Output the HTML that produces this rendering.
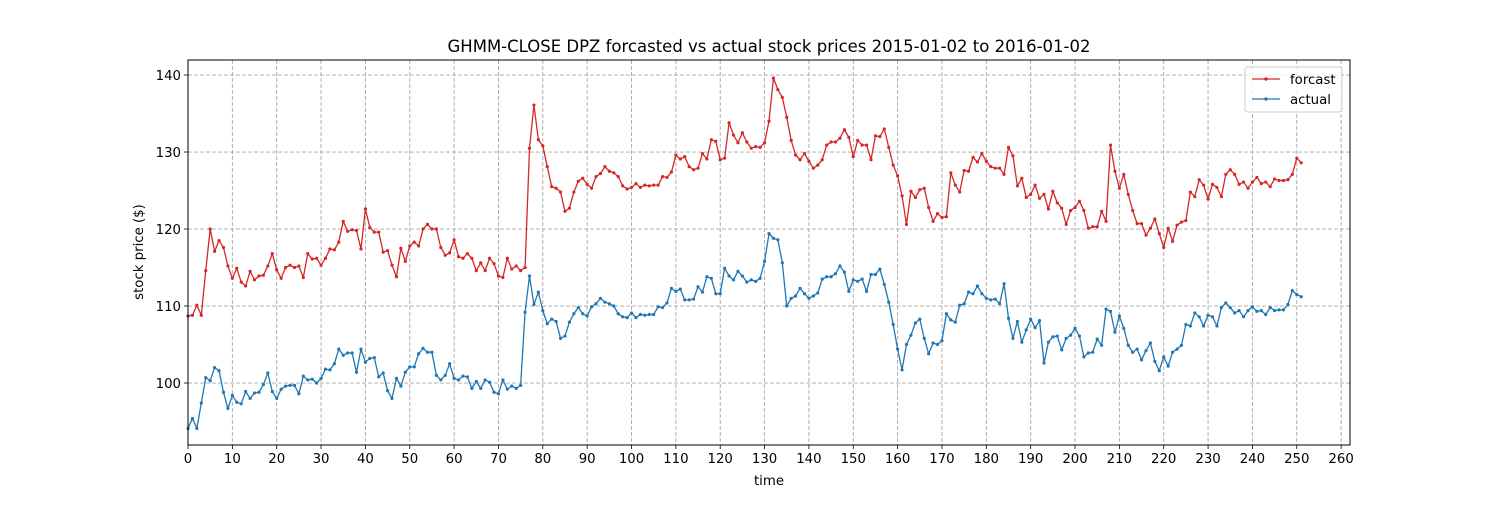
<!DOCTYPE html>
<html><head><meta charset="utf-8"><style>
html,body{margin:0;padding:0;background:#fff;}
svg text{font-family:"DejaVu Sans","Liberation Sans",sans-serif;fill:#000;}
</style></head><body>
<svg id="chart" width="1500" height="500" viewBox="0 0 1500 500" xmlns="http://www.w3.org/2000/svg">
<rect x="0" y="0" width="1500" height="500" fill="#fff"/>
<text x="769" y="52" font-size="16.5" text-anchor="middle">GHMM-CLOSE DPZ forcasted vs actual stock prices 2015-01-02 to 2016-01-02</text>
<g id="grid"></g>
<g id="series"></g>
<rect x="188" y="60" width="1162" height="385" fill="none" stroke="#000" stroke-width="1"/>
<g id="xaxis"></g>
<g id="yaxis"></g>
<text x="769" y="485" font-size="13.3" text-anchor="middle">time</text>
<text x="143" y="252" font-size="13.3" text-anchor="middle" transform="rotate(-90 143 252)">stock price ($)</text>
<g>
<rect x="1245" y="67" width="97" height="45" rx="3" fill="#fff" fill-opacity="0.8" stroke="#ccc"/>
<g>
<line x1="1252" y1="79" x2="1280" y2="79" stroke="#d62728" stroke-width="1.3"/>
<circle cx="1266" cy="79" r="1.7" fill="#d62728"/>
<text x="1290" y="84" font-size="13.3">forcast</text></g>
<g>
<line x1="1252" y1="99" x2="1280" y2="99" stroke="#1f77b4" stroke-width="1.3"/>
<circle cx="1266" cy="99" r="1.7" fill="#1f77b4"/>
<text x="1290" y="104" font-size="13.3">actual</text></g>
</g>
</svg>
<script>
const forecastValues=[108.7,108.8,110.1,108.8,114.6,120.0,117.1,118.5,117.6,115.2,
113.6,114.9,113.1,112.6,114.5,113.4,113.9,114.0,115.2,116.8,
114.7,113.6,115.0,115.3,115.0,115.2,113.7,116.8,116.1,116.2,
115.3,116.2,117.4,117.3,118.3,121.0,119.7,119.9,119.8,117.4,
122.6,120.2,119.6,119.6,117.0,117.2,115.3,113.8,117.5,115.8,
117.8,118.3,117.8,120.0,120.6,120.0,120.0,117.6,116.6,116.9,
118.6,116.4,116.2,116.8,116.2,114.6,115.6,114.6,116.2,115.5,
113.9,113.7,116.2,114.8,115.2,114.6,115.0,130.5,136.1,131.6,
130.8,128.1,125.5,125.3,124.8,122.3,122.7,124.8,126.2,126.6,
125.8,125.3,126.8,127.2,128.1,127.5,127.3,126.8,125.6,125.2,
125.4,125.9,125.4,125.7,125.6,125.7,125.7,126.8,126.7,127.4,
129.6,129.1,129.4,128.1,127.7,127.9,129.8,129.1,131.6,131.4,
129.0,129.2,133.8,132.2,131.2,132.5,131.3,130.5,130.7,130.6,
131.2,134.0,139.6,138.1,137.1,134.5,131.5,129.6,129.0,129.8,
128.8,127.9,128.3,129.0,130.9,131.3,131.3,131.8,132.9,131.9,
129.4,131.5,130.9,130.9,129.0,132.1,132.0,133.0,130.6,128.3,
126.9,124.3,120.6,124.9,124.1,125.1,125.3,122.8,121.0,122.0,
121.5,121.6,127.3,125.7,124.8,127.6,127.5,129.3,128.7,129.8,
128.8,128.1,127.9,127.9,127.1,130.6,129.5,125.6,126.6,124.1,
124.5,125.7,124.0,124.5,122.6,124.9,123.4,122.7,120.6,122.4,
122.8,123.6,122.4,120.1,120.3,120.3,122.3,121.0,130.9,127.5,
125.3,127.1,124.5,122.4,120.7,120.7,119.2,120.1,121.3,119.4,
117.6,120.1,118.4,120.5,120.9,121.1,124.8,124.2,126.4,125.7,
123.9,125.8,125.4,124.2,127.1,127.7,127.1,125.8,126.1,125.3,
126.1,126.7,125.9,126.1,125.5,126.5,126.3,126.3,126.4,127.1,129.2,128.6];
const actualValues=[94.1,95.4,94.1,97.4,100.7,100.3,102.0,101.6,98.8,96.7,
98.4,97.5,97.3,98.9,98.0,98.7,98.8,99.8,101.3,98.9,
98.0,99.2,99.6,99.7,99.7,98.6,100.9,100.4,100.5,100.0,
100.6,101.8,101.7,102.5,104.4,103.6,103.9,103.9,101.4,104.4,
102.7,103.2,103.3,100.8,101.3,99.0,98.0,100.6,99.6,101.4,
102.1,102.1,103.8,104.5,104.0,104.0,101.0,100.4,101.0,102.5,
100.6,100.4,100.9,100.8,99.3,100.2,99.3,100.4,100.1,98.8,
98.6,100.4,99.2,99.6,99.3,99.7,109.2,113.9,110.2,111.8,
109.4,107.7,108.3,108.0,105.8,106.1,107.9,109.0,109.8,109.0,
108.7,109.9,110.3,111.0,110.5,110.3,110.0,109.0,108.6,108.5,
109.1,108.5,108.9,108.8,108.9,108.9,109.9,109.8,110.4,112.3,
111.9,112.2,110.8,110.8,110.9,112.5,111.8,113.8,113.6,111.6,
111.6,114.9,113.9,113.4,114.5,113.9,113.1,113.4,113.2,113.6,
115.8,119.4,118.8,118.6,115.6,110.0,111.0,111.3,112.3,111.6,
111.0,111.3,111.7,113.5,113.8,113.8,114.2,115.2,114.4,111.9,
113.4,113.2,113.5,111.9,114.1,114.1,114.8,112.8,110.5,107.6,
104.4,101.7,105.0,106.2,107.8,108.3,105.8,103.8,105.2,105.0,
105.5,109.0,108.2,107.9,110.1,110.3,111.8,111.6,112.6,111.6,
111.0,110.8,110.9,110.3,112.9,108.4,105.8,108.0,105.3,106.9,
108.3,107.2,108.1,102.6,105.3,106.0,106.1,104.3,105.8,106.2,
107.1,106.1,103.4,103.9,104.0,105.7,104.9,109.6,109.3,106.6,
108.7,107.1,104.9,104.0,104.4,103.0,104.2,105.2,102.8,101.6,
103.4,102.2,104.0,104.4,104.9,107.6,107.4,109.1,108.6,107.4,
108.8,108.6,107.4,109.8,110.4,109.8,109.1,109.4,108.6,109.4,
109.9,109.3,109.4,108.9,109.8,109.4,109.5,109.5,110.2,112.0,111.5,111.2];
const xTicks=[0,10,20,30,40,50,60,70,80,90,100,110,120,130,140,150,160,170,180,190,200,210,220,230,240,250,260];
const yTicks=[100,110,120,130,140];

const NS='http://www.w3.org/2000/svg';
const L=188,R=1350,T=60,B=445;
const X0=0,X1=262,Y0=91.95,Y1=141.95;
function xs(v){return L+(v-X0)/(X1-X0)*(R-L);}
function ys(v){return B-(v-Y0)/(Y1-Y0)*(B-T);}
function mk(tag,attrs,parent){const e=document.createElementNS(NS,tag);for(const k in attrs)e.setAttribute(k,attrs[k]);parent.appendChild(e);return e;}
const grid=document.getElementById('grid'),xa=document.getElementById('xaxis'),ya=document.getElementById('yaxis'),ser=document.getElementById('series');
xTicks.forEach(t=>{const x=xs(t);
 const g=mk('line',{x1:x,y1:T,x2:x,y2:B,stroke:'#a8a8a8','stroke-width':0.9,'stroke-dasharray':'4,2'},grid);
 
 
 const tk=mk('line',{x1:x,y1:B,x2:x,y2:B+4,stroke:'#000','stroke-width':0.8},xa);
 
 
 const tx=mk('text',{x:x,y:B+18,'font-size':13.3,'text-anchor':'middle'},xa);tx.textContent=t;
 
 
});
yTicks.forEach(t=>{const y=ys(t);
 const g=mk('line',{x1:L,y1:y,x2:R,y2:y,stroke:'#a8a8a8','stroke-width':0.9,'stroke-dasharray':'4,2'},grid);
 
 
 const tk=mk('line',{x1:L-4,y1:y,x2:L,y2:y,stroke:'#000','stroke-width':0.8},ya);
 
 
 const tx=mk('text',{x:L-7,y:y+5,'font-size':13.3,'text-anchor':'end'},ya);tx.textContent=t;
 
 
});
function drawSeries(vals,color,name){
 const g=mk('g',{},ser);
 
 
 const pts=vals.map((v,i)=>xs(i).toFixed(2)+','+ys(v).toFixed(2)).join(' ');
 const pl=mk('polyline',{points:pts,fill:'none',stroke:color,'stroke-width':1.3,'stroke-linejoin':'round'},g);
 
 
 vals.forEach((v,i)=>{const c=mk('circle',{cx:xs(i),cy:ys(v),r:1.6,fill:color},g);
  
  });
}
drawSeries(forecastValues,'#d62728','forcast');
drawSeries(actualValues,'#1f77b4','actual');
</script>
</body></html>
